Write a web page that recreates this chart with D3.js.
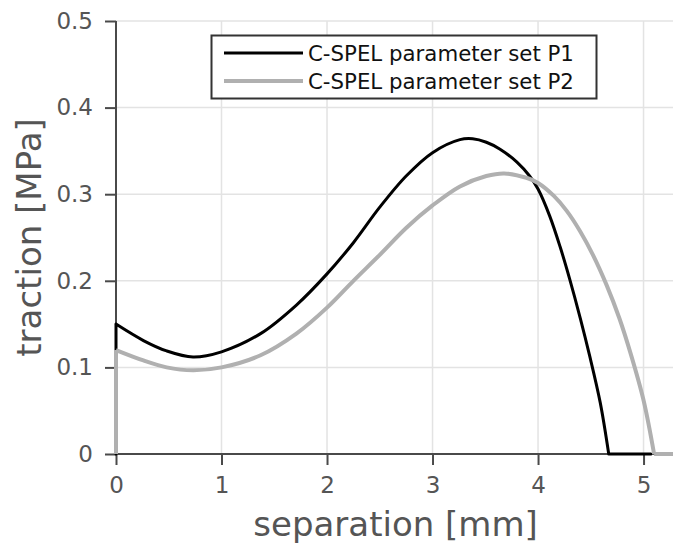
<!DOCTYPE html>
<html>
<head>
<meta charset="utf-8">
<script src="https://cdn.jsdelivr.net/npm/d3@7"></script>
<style>
  body { margin: 0; background: #fff; }
  svg { display: block; font-family: "DejaVu Sans", sans-serif; }
</style>
</head>
<body>
<div id="chart"></div>
<script>
// curve P1 (black)
var sepP1 = [0, 0, 0.26, 0.48, 0.73, 1.0, 1.37, 1.71, 2.0, 2.25, 2.5, 2.75, 3.0, 3.26, 3.38, 3.51, 3.64, 3.80, 3.92, 4.0, 4.11, 4.21, 4.30, 4.40, 4.49, 4.59, 4.67, 5.07];
var tracP1 = [0, 0.150, 0.131, 0.119, 0.112, 0.118, 0.139, 0.172, 0.208, 0.244, 0.285, 0.321, 0.348, 0.363, 0.364, 0.360, 0.352, 0.337, 0.321, 0.306, 0.275, 0.239, 0.202, 0.157, 0.113, 0.059, 0, 0];

// curve P2 (grey)
var sepP2 = [0, 0, 0.26, 0.48, 0.73, 1.0, 1.37, 1.71, 2.0, 2.25, 2.5, 2.75, 3.0, 3.26, 3.51, 3.68, 3.89, 4.0, 4.15, 4.27, 4.40, 4.52, 4.65, 4.77, 4.88, 5.0, 5.10, 5.3];
var tracP2 = [0, 0.120, 0.108, 0.100, 0.0966, 0.100, 0.114, 0.139, 0.169, 0.200, 0.230, 0.261, 0.287, 0.309, 0.321, 0.324, 0.319, 0.313, 0.298, 0.281, 0.257, 0.230, 0.195, 0.157, 0.115, 0.062, 0, 0];

var seriesNames = ["C-SPEL parameter set P1", "C-SPEL parameter set P2"];
var xTicks = [0, 1, 2, 3, 4, 5];
var yTicks = [0, 0.1, 0.2, 0.3, 0.4, 0.5];

// plot box
var W = 673, H = 550;
var pLeft = 116, pRight = 675.2, pTop = 21, pBottom = 454;

var svg = d3.select("#chart").append("svg")
    .attr("width", W)
    .attr("height", H);

var x = d3.scaleLinear().domain([0, 5.3]).range([pLeft, pRight]);
var y = d3.scaleLinear().domain([0, 0.5]).range([pBottom, pTop]);

// grid
svg.append("g").selectAll("line")
    .data(xTicks).enter().append("line")
    .attr("x1", d => x(d)).attr("x2", d => x(d))
    .attr("y1", pTop).attr("y2", pBottom)
    .attr("stroke", "#e3e3e3").attr("stroke-width", 1.5);
svg.append("g").selectAll("line")
    .data(yTicks).enter().append("line")
    .attr("x1", pLeft).attr("x2", pRight)
    .attr("y1", d => y(d)).attr("y2", d => y(d))
    .attr("stroke", "#e3e3e3").attr("stroke-width", 1.5);

// axes
var xAxis = svg.append("g")
    .attr("transform", "translate(0," + pBottom + ")")
    .call(d3.axisBottom(x).tickValues(xTicks).tickSize(11).tickPadding(12).tickFormat(d3.format("d")));
var yAxis = svg.append("g")
    .attr("transform", "translate(" + pLeft + ",0)")
    .call(d3.axisLeft(y).tickValues(yTicks).tickSize(11).tickPadding(12).tickFormat(d => d === 0 ? "0" : d3.format(".1f")(d)));

[xAxis, yAxis].forEach(function(a) {
  a.select(".domain").attr("stroke", "#4a4a4a").attr("stroke-width", 2);
  a.selectAll(".tick line").attr("stroke", "#4a4a4a").attr("stroke-width", 2);
  a.selectAll(".tick text")
    .attr("fill", "#555")
    .style("font-family", "DejaVu Sans")
    .style("font-size", "23px");
});
xAxis.select(".domain").attr("d", "M" + pLeft + ",0H" + pRight);
yAxis.select(".domain").attr("d", "M0," + pTop + "V" + pBottom);

// curves: straight jump at the start, smooth body, straight flat tail at zero
var straight = d3.line().x(d => x(d[0])).y(d => y(d[1]));
var smooth = d3.line().x(d => x(d[0])).y(d => y(d[1])).curve(d3.curveCatmullRom.alpha(0.5));

function curvePath(sep, trac) {
  var pts = d3.zip(sep, trac);
  var n = pts.length;
  return straight(pts.slice(0, 2)) + smooth(pts.slice(1, n - 1)) + straight(pts.slice(n - 2));
}

svg.append("path")
    .attr("d", curvePath(sepP1, tracP1))
    .attr("fill", "none")
    .attr("stroke", "#000")
    .attr("stroke-width", 3)
    .attr("stroke-linejoin", "round")
    .attr("stroke-linecap", "round");

svg.append("path")
    .attr("d", curvePath(sepP2, tracP2))
    .attr("fill", "none")
    .attr("stroke", "#b0b0b0")
    .attr("stroke-width", 4)
    .attr("stroke-linejoin", "round")
    .attr("stroke-linecap", "butt");

// axis labels
svg.append("text")
    .attr("x", (pLeft + pRight) / 2)
    .attr("y", 536)
    .attr("text-anchor", "middle")
    .attr("fill", "#555")
    .style("font-size", "34px")
    .text("separation [mm]");

svg.append("text")
    .attr("transform", "translate(41," + ((pTop + pBottom) / 2) + ")rotate(-90)")
    .attr("text-anchor", "middle")
    .attr("fill", "#555")
    .style("font-size", "34px")
    .text("traction [MPa]");

// legend
var lg = svg.append("g");
lg.append("rect")
    .attr("x", 211.5).attr("y", 35.5)
    .attr("width", 385).attr("height", 63)
    .attr("fill", "#fff")
    .attr("stroke", "#333").attr("stroke-width", 2);

var legColors = ["#000", "#b0b0b0"], legWidths = [3, 4], legY = [53, 81];
seriesNames.forEach(function(name, i) {
  lg.append("line")
    .attr("x1", 224).attr("x2", 303)
    .attr("y1", legY[i]).attr("y2", legY[i])
    .attr("stroke", legColors[i]).attr("stroke-width", legWidths[i]);
  lg.append("text")
    .attr("x", 308)
    .attr("y", legY[i] + 7.5)
    .attr("fill", "#111")
    .style("font-size", "21.3px")
    .text(name);
});
</script>
</body>
</html>
